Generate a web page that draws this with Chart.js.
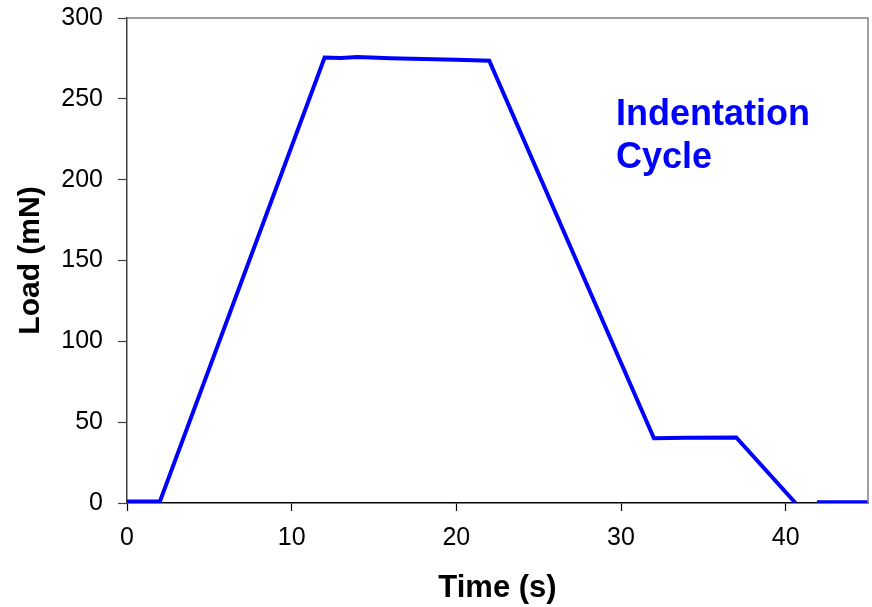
<!DOCTYPE html>
<html lang="en">
<head>
  <meta charset="UTF-8" />
  <title>Indentation Cycle</title>
  <script src="https://cdn.jsdelivr.net/npm/chart.js"></script>
  <style>
    html, body { margin: 0; padding: 0; background: #fff; }
    #wrap { width: 872px; height: 607px; }
  </style>
</head>
<body>
  <div id="wrap"><canvas id="loadChart" width="872" height="607"></canvas></div>

  <script>
    // values
    const timeS = [0, 2, 12, 13, 14, 16, 18, 20, 22, 32, 34, 37, 40.6, 41.2, 41.9, 45];
    const loadMN = [1, 1, 275.5, 275.3, 275.9, 275.1, 274.6, 274.2, 273.6, 40, 40.3, 40.5, 0, null, 0.5, 0.5];
    const xTicks = [0, 10, 20, 30, 40];
    const yTicks = [0, 50, 100, 150, 200, 250, 300];

    const points = timeS.map((t, i) => ({ x: t, y: loadMN[i] }));

    const fontFamily = '"Liberation Sans", Arial, sans-serif';

    // gray box on top and right, plus the annotation text
    const framePlugin = {
      id: 'frame',
      afterDraw(chart) {
        const { ctx, chartArea: a } = chart;
        ctx.save();
        ctx.strokeStyle = '#808080';
        ctx.lineWidth = 1.5;
        ctx.beginPath();
        ctx.moveTo(a.left, a.top);
        ctx.lineTo(a.right, a.top);
        ctx.lineTo(a.right, a.bottom);
        ctx.stroke();

        ctx.fillStyle = '#0000ff';
        ctx.font = 'bold 36px ' + fontFamily;
        ctx.textBaseline = 'alphabetic';
        ctx.fillText('Indentation', 616, 125);
        ctx.fillText('Cycle', 616, 168);
        ctx.restore();
      }
    };

    new Chart(document.getElementById('loadChart'), {
      type: 'scatter',
      data: {
        datasets: [{
          data: points,
          showLine: true,
          borderColor: '#0000ff',
          borderWidth: 4,
          pointRadius: 0,
          fill: false,
          tension: 0
        }]
      },
      options: {
        responsive: false,
        animation: false,
        layout: { padding: { top: 18, right: 4, left: 0, bottom: 0 } },
        plugins: {
          legend: { display: false },
          tooltip: { enabled: false }
        },
        scales: {
          x: {
            type: 'linear',
            min: 0,
            max: 45,
            afterBuildTicks(scale) {
              scale.ticks = xTicks.map(v => ({ value: v }));
            },
            afterFit(scale) {
              scale.height = 104;
              scale.paddingLeft = 0;
              scale.paddingRight = 0;
            },
            border: { color: '#000', width: 1.5 },
            grid: { drawOnChartArea: false, tickLength: 8, color: '#000', tickWidth: 1.2 },
            ticks: { padding: 12, color: '#000', font: { family: fontFamily, size: 25 } },
            title: {
              display: true,
              text: 'Time (s)',
              color: '#000',
              padding: { top: 7, bottom: 0 },
              font: { family: fontFamily, size: 31, weight: 'bold' }
            }
          },
          y: {
            min: 0,
            max: 300,
            afterBuildTicks(scale) {
              scale.ticks = yTicks.map(v => ({ value: v }));
            },
            afterFit(scale) {
              scale.width = 127;
              scale.paddingTop = 0;
              scale.paddingBottom = 0;
            },
            border: { color: '#404040', width: 1.5 },
            grid: { drawOnChartArea: false, tickLength: 9, color: '#404040', tickWidth: 1.2 },
            ticks: { padding: 15, color: '#000', font: { family: fontFamily, size: 25 } },
            title: {
              display: true,
              text: 'Load (mN)',
              color: '#000',
              padding: { top: 13, bottom: 0 },
              font: { family: fontFamily, size: 30, weight: 'bold' }
            }
          }
        }
      },
      plugins: [framePlugin]
    });
  </script>
</body>
</html>
